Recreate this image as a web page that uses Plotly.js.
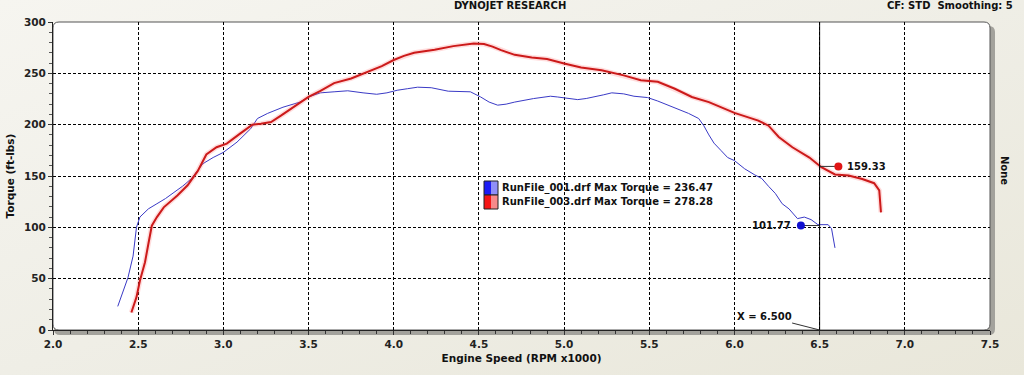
<!DOCTYPE html>
<html>
<head>
<meta charset="utf-8">
<script src="https://cdn.plot.ly/plotly-3.0.1.min.js"></script>
<style>
  html, body { margin: 0; padding: 0; }
  body { width: 1024px; height: 375px; background: linear-gradient(160deg, #f6f5f0 0%, #efeee6 50%, #e9e7da 100%); }
  #chart { width: 1024px; height: 375px; }
</style>
</head>
<body>
<div id="chart"></div>
<script>
// ---- Data ----
const run1Rpm = [2.38,2.41,2.44,2.47,2.49,2.51,2.56,2.61,2.66,2.71,2.76,2.81,2.88,2.94,3.00,3.08,3.16,3.20,3.26,3.35,3.45,3.50,3.57,3.65,3.73,3.82,3.90,3.96,4.02,4.08,4.14,4.22,4.32,4.45,4.51,4.56,4.61,4.66,4.71,4.82,4.92,4.96,5.02,5.08,5.13,5.18,5.23,5.28,5.35,5.41,5.49,5.55,5.61,5.67,5.73,5.79,5.82,5.85,5.88,5.92,5.96,6.00,6.06,6.12,6.16,6.20,6.24,6.28,6.32,6.37,6.41,6.45,6.49,6.52,6.55,6.57,6.59];
const run1Torque = [23,37,51,72,100,110,118,123,128,134,140,147,162,168,173,183,196,206,211,217,222,227,231,232,233,231,229.6,231,233.5,235,236.5,236,232.6,232,227,222,219,220,222,225.4,227.7,227,226,224.4,225.5,227,229,231,230,227.7,226.4,223,219,215,211,206,199,190,182,175,168,165,157,151,147.6,140,133,123,118,108.5,110,107.5,102.6,102.6,102.6,98.7,80];

const run3Rpm = [2.46,2.49,2.51,2.54,2.56,2.58,2.61,2.65,2.73,2.79,2.85,2.90,2.96,3.02,3.10,3.17,3.22,3.28,3.34,3.41,3.50,3.57,3.65,3.75,3.85,3.93,4.00,4.06,4.12,4.24,4.35,4.47,4.53,4.58,4.63,4.71,4.81,4.90,5.00,5.10,5.22,5.35,5.45,5.55,5.65,5.75,5.85,6.00,6.14,6.20,6.26,6.34,6.44,6.51,6.59,6.67,6.75,6.82,6.85,6.86];
const run3Torque = [17,32,48,66,84,101.6,110,119.5,131,141,155,171,178,181.5,191.5,200,201,202.6,209,217,227,233,240.5,245,251.5,257,263,267,270,273,276.5,279,278.5,276,272.6,268,265.5,264,259.6,255.7,253,248,243.3,241.7,235,227,222,211.5,204,199,188,178,168,158.6,151.5,150.5,147,143,136,114.6];

const runNames = ["RunFile_001.drf Max Torque = 236.47", "RunFile_003.drf Max Torque = 278.28"];
const cursorRpm = 6.5;
const cursorLabel = "X = 6.500";
const cursorMarkRpm = [6.39, 6.61];
const cursorMarkTorque = [101.77, 159.33];
const cursorMarkText = ["101.77", "159.33"];

const xTicks = [2.0,2.5,3.0,3.5,4.0,4.5,5.0,5.5,6.0,6.5,7.0,7.5];
const yTicks = [0,50,100,150,200,250,300];

// ---- Layout helpers ----
const W = 1024, H = 375;
const M = {l: 53, r: 34, t: 22, b: 45};
const PW = W - M.l - M.r, PH = H - M.t - M.b;
const px = p => (p - M.l) / PW;
const py = p => (H - M.b - p) / PH;

function roundRect(x0, y0, x1, y1, r) {
  const X = v => px(v).toFixed(5), Y = v => py(v).toFixed(5);
  return `M ${X(x0 + r)} ${Y(y0)} L ${X(x1 - r)} ${Y(y0)} Q ${X(x1)} ${Y(y0)} ${X(x1)} ${Y(y0 + r)} ` +
         `L ${X(x1)} ${Y(y1 - r)} Q ${X(x1)} ${Y(y1)} ${X(x1 - r)} ${Y(y1)} ` +
         `L ${X(x0 + r)} ${Y(y1)} Q ${X(x0)} ${Y(y1)} ${X(x0)} ${Y(y1 - r)} ` +
         `L ${X(x0)} ${Y(y0 + r)} Q ${X(x0)} ${Y(y0)} ${X(x0 + r)} ${Y(y0)} Z`;
}

const FONT = "DejaVu Sans";
const bold = (size, color) => ({family: FONT, size: size, color: color || "#111", weight: "bold"});

const traces = [
  {x: run1Rpm, y: run1Torque, mode: "lines", name: runNames[0], showlegend: false,
   line: {color: "#3a3ac6", width: 1}, hoverinfo: "x+y"},
  {x: run3Rpm, y: run3Torque, mode: "lines", showlegend: false, hoverinfo: "skip",
   line: {color: "rgba(255,120,120,0.25)", width: 5}},
  {x: run3Rpm, y: run3Torque, mode: "lines", name: runNames[1], showlegend: false,
   line: {color: "#cc1a1a", width: 2}, hoverinfo: "x+y"},
  {x: [cursorMarkRpm[0], cursorRpm], y: [cursorMarkTorque[0], cursorMarkTorque[0]], mode: "lines",
   showlegend: false, hoverinfo: "skip", line: {color: "#333", width: 1}},
  {x: [cursorRpm, cursorMarkRpm[1]], y: [cursorMarkTorque[1], cursorMarkTorque[1]], mode: "lines",
   showlegend: false, hoverinfo: "skip", line: {color: "#333", width: 1}},
  {x: cursorMarkRpm, y: cursorMarkTorque, mode: "markers", showlegend: false,
   marker: {color: ["#1010d0", "#e01515"], size: 8}, hoverinfo: "x+y"}
];

const shapes = [
  {type: "path", xref: "paper", yref: "paper", layer: "below",
   path: roundRect(M.l + 1, M.t + 4, W - M.r + 5, H - M.b + 5, 6),
   fillcolor: "#a3a29c", line: {width: 0}},
  {type: "path", xref: "paper", yref: "paper", layer: "below",
   path: roundRect(M.l, M.t, W - M.r, H - M.b, 6),
   fillcolor: "#ffffff", line: {color: "#555", width: 1}},
  {type: "line", xref: "x", yref: "y", x0: cursorRpm, x1: cursorRpm, y0: 0, y1: 300,
   line: {color: "#000", width: 1}},
  {type: "rect", xref: "paper", yref: "paper", x0: px(484), x1: px(491), y0: py(195), y1: py(181),
   fillcolor: "#1c1cf5", line: {width: 0}},
  {type: "rect", xref: "paper", yref: "paper", x0: px(491), x1: px(498), y0: py(195), y1: py(181),
   fillcolor: "#8f8ff8", line: {width: 0}},
  {type: "rect", xref: "paper", yref: "paper", x0: px(484), x1: px(498), y0: py(195), y1: py(181),
   fillcolor: "rgba(0,0,0,0)", line: {color: "#222", width: 1}},
  {type: "rect", xref: "paper", yref: "paper", x0: px(484), x1: px(491), y0: py(209), y1: py(195),
   fillcolor: "#f51616", line: {width: 0}},
  {type: "rect", xref: "paper", yref: "paper", x0: px(491), x1: px(498), y0: py(209), y1: py(195),
   fillcolor: "#f88a8a", line: {width: 0}},
  {type: "rect", xref: "paper", yref: "paper", x0: px(484), x1: px(498), y0: py(209), y1: py(195),
   fillcolor: "rgba(0,0,0,0)", line: {color: "#222", width: 1}}
];

const annotations = [
  {xref: "paper", yref: "paper", x: px(510), y: py(6), text: "DYNOJET RESEARCH", showarrow: false,
   xanchor: "center", yanchor: "middle", font: bold(10)},
  {xref: "paper", yref: "paper", x: px(1015), y: py(6), text: "CF: STD&nbsp;&nbsp;Smoothing: 5", showarrow: false,
   xanchor: "right", yanchor: "middle", font: bold(10)},
  {xref: "paper", yref: "paper", x: px(1005), y: py(170), text: "None", showarrow: false, textangle: 90,
   xanchor: "center", yanchor: "middle", font: bold(10)},
  {xref: "paper", yref: "paper", x: px(500), y: py(188), text: runNames[0], showarrow: false,
   xanchor: "left", yanchor: "middle", font: bold(10)},
  {xref: "paper", yref: "paper", x: px(500), y: py(202), text: runNames[1], showarrow: false,
   xanchor: "left", yanchor: "middle", font: bold(10)},
  {xref: "x", yref: "y", x: cursorMarkRpm[0], y: cursorMarkTorque[0], text: cursorMarkText[0], showarrow: false,
   xanchor: "right", yanchor: "middle", xshift: -8, font: bold(10)},
  {xref: "x", yref: "y", x: cursorMarkRpm[1], y: cursorMarkTorque[1], text: cursorMarkText[1], showarrow: false,
   xanchor: "left", yanchor: "middle", xshift: 7, font: bold(10)},
  {xref: "x", yref: "y", x: cursorRpm, y: 0, text: cursorLabel, showarrow: true, arrowhead: 0,
   arrowwidth: 1, arrowcolor: "#333", ax: -55, ay: -14, standoff: 0, font: bold(10)}
];

const axisCommon = {
  showline: true, linecolor: "#222", linewidth: 1, mirror: false,
  ticks: "outside", ticklen: 4, tickcolor: "#333", tickwidth: 1,
  showgrid: true, gridcolor: "#000", gridwidth: 1, griddash: "3px,2px",
  zeroline: false, tickfont: bold(10.5, "#222"), fixedrange: true
};

const layout = {
  width: W, height: H,
  margin: M,
  paper_bgcolor: "rgba(0,0,0,0)",
  plot_bgcolor: "rgba(0,0,0,0)",
  showlegend: false,
  xaxis: Object.assign({}, axisCommon, {
    range: [2.0, 7.5], tickmode: "array", tickvals: xTicks, ticktext: xTicks.map(v => v.toFixed(1)),
    minor: {dtick: 0.1, tick0: 2.0, ticks: "outside", ticklen: 3, tickcolor: "#333", showgrid: false},
    title: {text: "Engine Speed (RPM x1000)", font: bold(10.5, "#111"), standoff: 6}
  }),
  yaxis: Object.assign({}, axisCommon, {
    range: [0, 300], tickmode: "array", tickvals: yTicks, ticktext: yTicks.map(String),
    minor: {dtick: 10, tick0: 0, ticks: "outside", ticklen: 3, tickcolor: "#555", showgrid: false},
    title: {text: "Torque (ft-lbs)", font: bold(10.5, "#111"), standoff: 7}
  }),
  shapes: shapes,
  annotations: annotations
};

Plotly.newPlot("chart", traces, layout, {displayModeBar: false, staticPlot: true});
</script>
</body>
</html>
